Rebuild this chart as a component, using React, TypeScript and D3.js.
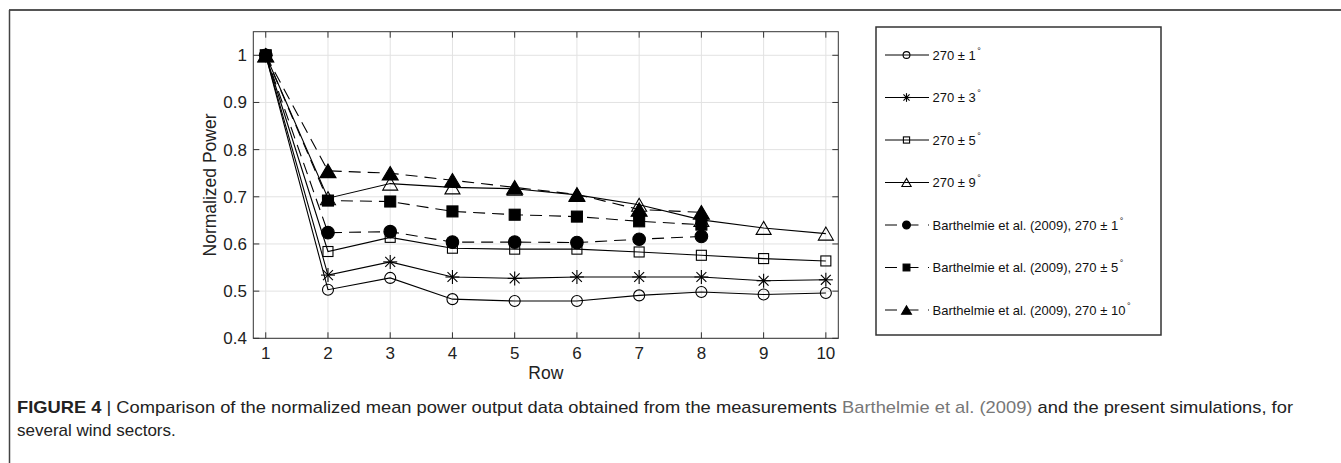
import React from "react";
import * as d3 from "d3";

const rows = [1, 2, 3, 4, 5, 6, 7, 8, 9, 10];
const sim1 = [1.0, 0.503, 0.528, 0.483, 0.479, 0.479, 0.491, 0.498, 0.493, 0.496];
const sim3 = [1.0, 0.534, 0.562, 0.530, 0.527, 0.530, 0.530, 0.530, 0.522, 0.524];
const sim5 = [1.0, 0.584, 0.614, 0.591, 0.589, 0.589, 0.583, 0.576, 0.569, 0.564];
const sim9 = [1.0, 0.697, 0.728, 0.720, 0.717, 0.704, 0.683, 0.651, 0.634, 0.622];
const barth1 = [1.0, 0.624, 0.626, 0.604, 0.604, 0.603, 0.610, 0.616];
const barth5 = [1.0, 0.692, 0.690, 0.669, 0.662, 0.658, 0.648, 0.641];
const barth10 = [1.0, 0.755, 0.750, 0.735, 0.720, 0.705, 0.673, 0.667];

const yTicks = [0.4, 0.5, 0.6, 0.7, 0.8, 0.9, 1.0];
const yTickLabels = ["0.4", "0.5", "0.6", "0.7", "0.8", "0.9", "1"];
const xTicks = rows;

type Marker = "circle" | "asterisk" | "square" | "triangle";

interface Series {
  values: number[];
  marker: Marker;
  filled: boolean;
  dashed: boolean;
  label: string;
  deg: string;
}

const series: Series[] = [
  { values: sim1, marker: "circle", filled: false, dashed: false, label: "270 ± ", deg: "1" },
  { values: sim3, marker: "asterisk", filled: false, dashed: false, label: "270 ± ", deg: "3" },
  { values: sim5, marker: "square", filled: false, dashed: false, label: "270 ± ", deg: "5" },
  { values: sim9, marker: "triangle", filled: false, dashed: false, label: "270 ± ", deg: "9" },
  { values: barth1, marker: "circle", filled: true, dashed: true, label: "Barthelmie et al. (2009), 270 ± ", deg: "1" },
  { values: barth5, marker: "square", filled: true, dashed: true, label: "Barthelmie et al. (2009), 270 ± ", deg: "5" },
  { values: barth10, marker: "triangle", filled: true, dashed: true, label: "Barthelmie et al. (2009), 270 ± ", deg: "10" },
];

function MarkerShape({ kind, filled, cx, cy, scale }: { kind: Marker; filled: boolean; cx: number; cy: number; scale: number }) {
  const fill = filled ? "#000" : "none";
  const sw = 1.1;
  if (kind === "circle") {
    const r = (filled ? 6.3 : 5.5) * scale;
    return <circle cx={cx} cy={cy} r={r} fill={fill} stroke="#000" strokeWidth={sw} />;
  }
  if (kind === "square") {
    const s = (filled ? 11 : 10) * scale;
    return <rect x={cx - s / 2} y={cy - s / 2} width={s} height={s} fill={fill} stroke="#000" strokeWidth={sw} />;
  }
  if (kind === "triangle") {
    const w = (filled ? 16 : 15) * scale;
    const h = (filled ? 13.5 : 13) * scale;
    const d = `M${cx},${cy - h / 2}L${cx - w / 2},${cy + h / 2}L${cx + w / 2},${cy + h / 2}Z`;
    return <path d={d} fill={fill} stroke="#000" strokeWidth={sw} strokeLinejoin="miter" />;
  }
  const a = 7 * scale;
  const b = a * 0.7071;
  return (
    <g stroke="#000" strokeWidth={sw}>
      <line x1={cx - a} y1={cy} x2={cx + a} y2={cy} />
      <line x1={cx} y1={cy - a} x2={cx} y2={cy + a} />
      <line x1={cx - b} y1={cy - b} x2={cx + b} y2={cy + b} />
      <line x1={cx - b} y1={cy + b} x2={cx + b} y2={cy - b} />
    </g>
  );
}

export default function App() {
  const W = 1341;
  const H = 463;
  const left = 253.3, right = 838.3, top = 31.7, bottom = 338.3;
  const x = d3.scaleLinear().domain([0.8, 10.2]).range([left, right]);
  const y = d3.scaleLinear().domain([0.4, 1.05]).range([bottom, top]);
  const line = d3
    .line<number>()
    .x((_, i) => x(rows[i]))
    .y((d) => y(d));

  const font = "'Liberation Sans', Arial, Helvetica, sans-serif";
  const tickLen = 6;

  const legX = 876, legY = 27, legW = 285, legH = 308;
  const legRow0 = 55, legStep = 42.5;

  return (
    <svg width={W} height={H} style={{ position: "absolute", left: 0, top: 0, background: "#fff" }} fontFamily={font}>
      <rect x={0} y={0} width={W} height={H} fill="#fff" />
      {/* figure frame */}
      <line x1={9} y1={10} x2={W} y2={10} stroke="#555" strokeWidth={2} />
      <line x1={9.5} y1={10} x2={9.5} y2={H} stroke="#444" strokeWidth={1.5} />

      {/* grid */}
      <g stroke="#e2e2e2" strokeWidth={1}>
        {xTicks.map((t) => (
          <line key={"gx" + t} x1={x(t)} x2={x(t)} y1={top} y2={bottom} />
        ))}
        {yTicks.map((t) => (
          <line key={"gy" + t} x1={left} x2={right} y1={y(t)} y2={y(t)} />
        ))}
      </g>

      {/* ticks */}
      <g stroke="#333" strokeWidth={1}>
        {xTicks.map((t) => (
          <g key={"tx" + t}>
            <line x1={x(t)} x2={x(t)} y1={bottom} y2={bottom - tickLen} />
            <line x1={x(t)} x2={x(t)} y1={top} y2={top + tickLen} />
          </g>
        ))}
        {yTicks.map((t) => (
          <g key={"ty" + t}>
            <line x1={left} x2={left + tickLen} y1={y(t)} y2={y(t)} />
            <line x1={right} x2={right - tickLen} y1={y(t)} y2={y(t)} />
          </g>
        ))}
      </g>
      <rect x={left} y={top} width={right - left} height={bottom - top} fill="none" stroke="#333" strokeWidth={1} />

      {/* tick labels */}
      <g fontSize={17} fill="#222">
        {xTicks.map((t) => (
          <text key={"lx" + t} x={x(t)} y={359} textAnchor="middle">
            {t}
          </text>
        ))}
        {yTicks.map((t, i) => (
          <text key={"ly" + t} x={247} y={y(t) + 6} textAnchor="end">
            {yTickLabels[i]}
          </text>
        ))}
      </g>
      <g fontSize={17.5} fill="#222">
        <text x={(x(1) + x(10)) / 2} y={379} textAnchor="middle">
          Row
        </text>
        <text transform={`translate(216,${(top + bottom) / 2}) rotate(-90)`} textAnchor="middle">
          Normalized Power
        </text>
      </g>

      {/* lines */}
      <g fill="none" stroke="#000" strokeWidth={1.1}>
        {series.map((s, i) => (
          <path key={"ln" + i} d={line(s.values) || ""} strokeDasharray={s.dashed ? "12,7" : undefined} />
        ))}
      </g>
      {/* markers */}
      {series.map((s, i) => (
        <g key={"mk" + i}>
          {s.values.map((v, j) => (
            <MarkerShape key={j} kind={s.marker} filled={s.filled} cx={x(rows[j])} cy={y(v)} scale={1} />
          ))}
        </g>
      ))}

      {/* legend */}
      <rect x={legX} y={legY} width={legW} height={legH} fill="#fff" stroke="#333" strokeWidth={1.5} />
      {series.map((s, i) => {
        const cy = legRow0 + i * legStep;
        return (
          <g key={"lg" + i}>
            <line x1={885} x2={929} y1={cy} y2={cy} stroke="#000" strokeWidth={1} strokeDasharray={s.dashed ? "12,9.5" : undefined} />
            <MarkerShape kind={s.marker} filled={s.filled} cx={906.5} cy={cy} scale={0.62} />
            <text x={932.5} y={cy + 4.5} fontSize={13} fill="#111">
              {s.label}
              {s.deg}
              <tspan dx={1.5} dy={-6} fontSize={9}>
                °
              </tspan>
            </text>
          </g>
        );
      })}

      {/* caption */}
      <text x={17} y={413} fontSize={17} fill="#222" textLength={1276} lengthAdjust="spacingAndGlyphs">
        <tspan fontWeight="bold">FIGURE 4</tspan>
        <tspan> | Comparison of the normalized mean power output data obtained from the measurements </tspan>
        <tspan fill="#777">Barthelmie et al. (2009)</tspan>
        <tspan> and the present simulations, for</tspan>
      </text>
      <text x={17} y={436} fontSize={17} fill="#222">
        several wind sectors.
      </text>
    </svg>
  );
}
